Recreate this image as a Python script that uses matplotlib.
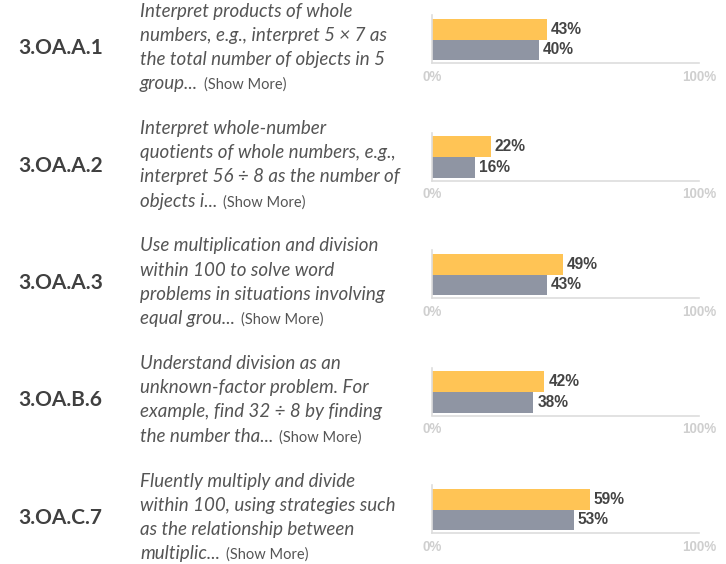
#!/usr/bin/env python3
import matplotlib

matplotlib.use("Agg")
from matplotlib import pyplot as plt

CODES = ["3.OA.A.1", "3.OA.A.2", "3.OA.A.3", "3.OA.B.6", "3.OA.C.7"]
DESCRIPTIONS = [
    ["Interpret products of whole", "numbers, e.g., interpret 5 \u00d7 7 as",
     "the total number of objects in 5", "group..."],
    ["Interpret whole-number", "quotients of whole numbers, e.g.,",
     "interpret 56 \u00f7 8 as the number of", "objects i..."],
    ["Use multiplication and division", "within 100 to solve word",
     "problems in situations involving", "equal grou..."],
    ["Understand division as an", "unknown-factor problem. For",
     "example, find 32 \u00f7 8 by finding", "the number tha..."],
    ["Fluently multiply and divide", "within 100, using strategies such",
     "as the relationship between", "multiplic..."],
]
SCORE_A = [43, 22, 49, 42, 59]  # yellow bar
SCORE_B = [40, 16, 43, 38, 53]  # gray bar
TICK_LABELS = ["0%", "100%"]

YELLOW = "#ffc455"
GRAY = "#8f95a3"
W, H = 726, 564
ROW_STEP = 117.5


def fx(x):
    return x / W


def fy(y):
    return 1 - y / H


def main():
    fig = plt.figure(figsize=(W / 100, H / 100), dpi=100)
    renderer = fig.canvas.get_renderer()

    for i, code in enumerate(CODES):
        dy = ROW_STEP * i

        fig.text(fx(18), fy(54 + dy), code, family="Lato", weight="bold",
                 fontsize=15, color="#404040", va="baseline")

        last = None
        for j, line in enumerate(DESCRIPTIONS[i]):
            last = fig.text(fx(140), fy(16.5 + dy + j * 24.2), line, family="Lato",
                            style="italic", fontsize=13.5, color="#555555",
                            va="baseline")
        ext = last.get_window_extent(renderer)
        fig.text((ext.x1 + 6) / W, fy(16.5 + dy + 3 * 24.2), "(Show More)",
                 family="Lato", fontsize=10.5, color="#555555", va="baseline")

        ax = fig.add_axes((fx(432), fy(63 + dy), (699 - 432) / W, 48 / H))
        ax.barh([1, 0], [SCORE_A[i], SCORE_B[i]], height=1.0,
                color=[YELLOW, GRAY])
        for pos, val in zip([1, 0], [SCORE_A[i], SCORE_B[i]]):
            ax.annotate(f"{val}%", (val, pos), xytext=(3, 0),
                        textcoords="offset points", va="center", ha="left",
                        family="Liberation Sans", weight="bold",
                        fontsize=11.2, color="#444444")
        ax.set_xlim(0, 100)
        ax.set_ylim(-0.646, 1.695)
        ax.set_xticks([0, 100], TICK_LABELS)
        ax.set_yticks([])
        ax.tick_params(axis="x", length=0, pad=5, labelsize=9.75,
                       labelcolor="#cfcfcf")
        for lab in ax.get_xticklabels():
            lab.set_fontweight("bold")
            lab.set_family("Liberation Sans")
        for side in ("top", "right"):
            ax.spines[side].set_visible(False)
        for side in ("left", "bottom"):
            ax.spines[side].set_color("#dddddd")
            ax.spines[side].set_linewidth(1.2)

    fig.savefig("out.png", dpi=100)


if __name__ == "__main__":
    main()
